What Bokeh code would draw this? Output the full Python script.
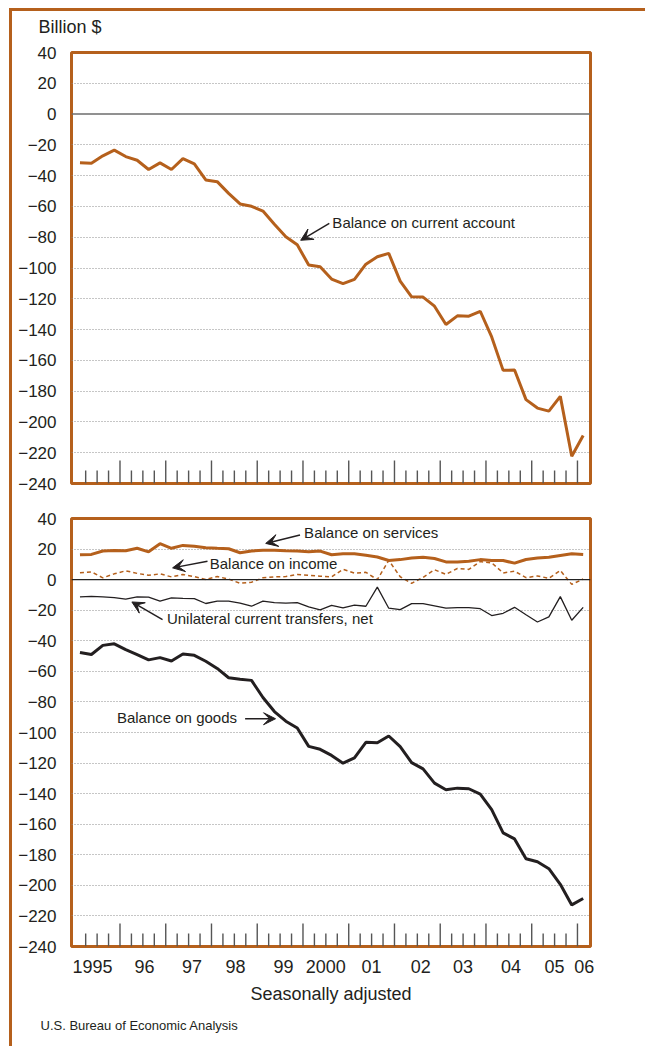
import numpy as np
from bokeh.plotting import figure
from bokeh.models import Range1d, FixedTicker, Span, Arrow, VeeHead, Label, Title
from bokeh.layouts import column
from bokeh.embed import file_html
from bokeh.resources import INLINE

# ---------------- data (quarterly, 1995Q1 .. 2006Q1), billion $ ----------------
quarters = list(range(45))
year_labels = ["1995", "96", "97", "98", "99", "2000", "01", "02", "03", "04", "05", "06"]
y_ticks = list(range(-240, 41, 20))

current_account = [-31.7, -31.9, -27.1, -23.4, -27.6, -30.0, -36.0, -31.7, -36.0, -28.9,
                   -32.4, -42.8, -43.9, -51.5, -58.4, -59.9, -63.0, -71.6, -79.7, -84.9,
                   -98.1, -99.2, -107.2, -110.2, -107.4, -97.5, -92.7, -90.5, -108.5, -118.7,
                   -118.9, -124.8, -136.7, -131.1, -131.3, -128.1, -144.8, -166.5, -166.3, -185.5,
                   -191.0, -193.0, -183.4, -222.3, -208.8]

services = [16.3, 16.5, 18.7, 19.1, 18.9, 20.5, 18.2, 23.5, 20.5, 22.4,
            21.8, 20.9, 20.5, 20.2, 17.6, 18.7, 19.3, 19.3, 18.9, 18.7,
            18.2, 18.7, 16.3, 16.9, 16.9, 15.9, 14.8, 12.5, 13.1, 14.2,
            14.6, 13.8, 11.6, 11.6, 12.1, 13.1, 12.5, 12.5, 10.8, 13.2,
            14.1, 14.6, 15.8, 16.9, 16.4]

income = [4.5, 5.1, 1.2, 3.8, 5.8, 4.1, 2.8, 3.8, 1.8, 3.4,
          2.0, 0.1, 2.0, 0.4, -2.4, -1.7, 1.2, 1.8, 2.0, 3.4,
          2.8, 2.3, 1.8, 6.8, 4.3, 4.8, 0.0, 12.6, 1.9, -2.4,
          1.5, 6.5, 3.5, 7.3, 6.7, 11.8, 11.0, 4.4, 5.5, 1.3,
          2.4, 0.9, 6.0, -3.1, 0.4]

transfers = [-11.3, -11.0, -11.3, -11.7, -12.8, -11.3, -11.5, -14.1, -11.9, -12.2,
             -12.4, -15.6, -14.1, -14.1, -15.3, -17.4, -14.1, -15.1, -15.3, -15.1,
             -17.8, -19.8, -16.9, -18.5, -16.7, -17.4, -4.9, -18.7, -19.6, -15.7,
             -15.7, -17.1, -18.6, -18.3, -18.3, -19.0, -23.5, -22.0, -18.1, -23.0,
             -27.7, -24.4, -11.1, -26.6, -18.1]

goods = [-47.6, -49.0, -43.0, -42.0, -45.8, -49.0, -52.5, -51.0, -53.2, -48.7,
         -49.5, -53.4, -58.1, -64.2, -65.2, -65.9, -77.1, -86.3, -92.6, -97.1,
         -109.1, -111.0, -115.0, -120.1, -116.6, -106.4, -106.7, -102.3, -109.3, -119.7,
         -123.8, -133.1, -137.5, -136.4, -136.8, -140.3, -150.5, -165.7, -169.6, -182.6,
         -184.6, -189.1, -199.3, -212.8, -208.6]

# ---------------- styling ----------------
ORANGE = "#B5601C"
INK = "#231F20"
FONT = "Liberation Sans"
label_pos = [1.1, 5.65, 9.8, 13.6, 17.8, 21.5, 25.5, 29.8, 33.5, 37.7, 41.5, 44.1]
FIG_W = 633
MB_LEFT = 59
MB_RIGHT = FIG_W - MB_LEFT - 519


def fmt(t):
    return str(t).replace("-", "\u2212")


def make_fig(frame_height, top, bottom):
    p = figure(frame_width=519, frame_height=frame_height,
               x_range=Range1d(-0.74, 44.64), y_range=Range1d(-240, 40),
               output_backend="svg", toolbar_location=None,
               min_border_left=MB_LEFT, min_border_right=MB_RIGHT,
               min_border_top=top, min_border_bottom=bottom)
    p.outline_line_color = ORANGE
    p.outline_line_width = 3
    p.outline_line_alpha = 1
    p.xgrid.visible = False
    p.ygrid.ticker = FixedTicker(ticks=[t for t in y_ticks if t != 0])
    p.ygrid.grid_line_color = "#8c8c8c"
    p.ygrid.grid_line_dash = "1 2"
    p.ygrid.grid_line_width = 1
    ya = p.yaxis[0]
    ya.ticker = FixedTicker(ticks=y_ticks)
    ya.major_label_overrides = {t: fmt(t) for t in y_ticks}
    ya.axis_line_color = None
    ya.major_tick_line_color = None
    ya.minor_tick_line_color = None
    ya.major_label_standoff = 9
    ya.major_label_text_font = FONT
    ya.major_label_text_font_size = "17px"
    ya.major_label_text_color = INK
    # quarter tick marks inside the bottom of the frame
    px_per_unit = frame_height / 280.0
    bounds = np.arange(0.5, 44.0, 1.0)
    is_year = ((bounds - 3.5) % 4) == 0
    lengths = np.where(is_year, 23.0, 13.0) / px_per_unit
    p.segment(x0=bounds, y0=-240, x1=bounds, y1=-240 + lengths,
              line_color="#555555", line_width=1.4)
    return p


# ---------------- unit header strip (a frameless figure carrying only a title) ----------------
p0 = figure(width=FIG_W, height=31, title="Billion $",
            x_axis_type=None, y_axis_type=None,
            min_border_left=MB_LEFT, min_border_right=MB_RIGHT,
            min_border_top=0, min_border_bottom=0,
            output_backend="svg", toolbar_location=None)
p0.grid.visible = False
p0.outline_line_color = None
p0.title.align = "left"
p0.title.offset = -33
p0.title.standoff = 6
p0.title.text_font = FONT
p0.title.text_font_size = "18px"
p0.title.text_font_style = "normal"
p0.title.text_color = INK

# ---------------- top panel ----------------
p1 = make_fig(431, 10, 17)
p1.xaxis.visible = False
p1.add_layout(Span(location=0, dimension="width", line_color="#6d6d6d", line_width=1.5))
p1.line(quarters, current_account, line_color=ORANGE, line_width=3)
p1.add_layout(Label(x=22.07, y=-70.6, text="Balance on current account",
                    text_baseline="middle", text_align="left", text_font=FONT,
                    text_font_size="15px", text_color=INK))
p1.add_layout(Arrow(end=VeeHead(size=12, fill_color=INK, line_color=INK, line_width=1),
                    x_start=21.8, y_start=-71.0, x_end=19.3, y_end=-82.0,
                    line_color=INK, line_width=1.5))

# ---------------- bottom panel ----------------
p2 = make_fig(428, 18, 100)
p2.add_layout(Span(location=0, dimension="width", line_color="#222222", line_width=1.3))
p2.line(quarters, services, line_color=ORANGE, line_width=3)
p2.line(quarters, income, line_color=ORANGE, line_width=1.5, line_dash="4 3")
p2.line(quarters, transfers, line_color=INK, line_width=1.3)
p2.line(quarters, goods, line_color=INK, line_width=3)

xa = p2.xaxis[0]
xa.ticker = FixedTicker(ticks=label_pos)
xa.major_label_overrides = dict(zip(label_pos, year_labels))
xa.axis_line_color = None
xa.major_tick_line_color = None
xa.minor_tick_line_color = None
xa.major_label_standoff = 7
xa.major_label_text_font = FONT
xa.major_label_text_font_size = "18px"
xa.major_label_text_color = INK
xa.axis_label = "Seasonally adjusted"
xa.axis_label_text_font = FONT
xa.axis_label_text_font_size = "18px"
xa.axis_label_text_font_style = "normal"
xa.axis_label_text_color = INK
xa.axis_label_standoff = 8

p2.add_layout(Title(text="U.S. Bureau of Economic Analysis", align="left", offset=-31,
                    text_font=FONT, text_font_size="13px", text_font_style="normal",
                    text_color=INK, standoff=19), "below")

annots = [
    ("Balance on services", 19.6, 30.7, (19.24, 29.2, 16.24, 23.7)),
    ("Balance on income", 11.35, 10.6, (11.15, 12.0, 8.1, 7.7)),
    ("Unilateral current transfers, net", 7.6, -25.4, (7.22, -26.1, 4.54, -14.6)),
    ("Balance on goods", 3.23, -90.5, (14.44, -91.0, 17.1, -91.0)),
]
for txt, tx, ty, (xs, ys, xe, ye) in annots:
    p2.add_layout(Label(x=tx, y=ty, text=txt, text_baseline="middle", text_align="left",
                        text_font=FONT, text_font_size="15px", text_color=INK))
    p2.add_layout(Arrow(end=VeeHead(size=12, fill_color=INK, line_color=INK, line_width=1),
                        x_start=xs, y_start=ys, x_end=xe, y_end=ye,
                        line_color=INK, line_width=1.5))

layout = column(p0, p1, p2, spacing=0,
                styles={"margin-left": "9px", "margin-top": "8px",
                        "border-left": f"3px solid {ORANGE}",
                        "border-top": f"3px solid {ORANGE}"})

open("out.html", "w").write(file_html(layout, INLINE))
